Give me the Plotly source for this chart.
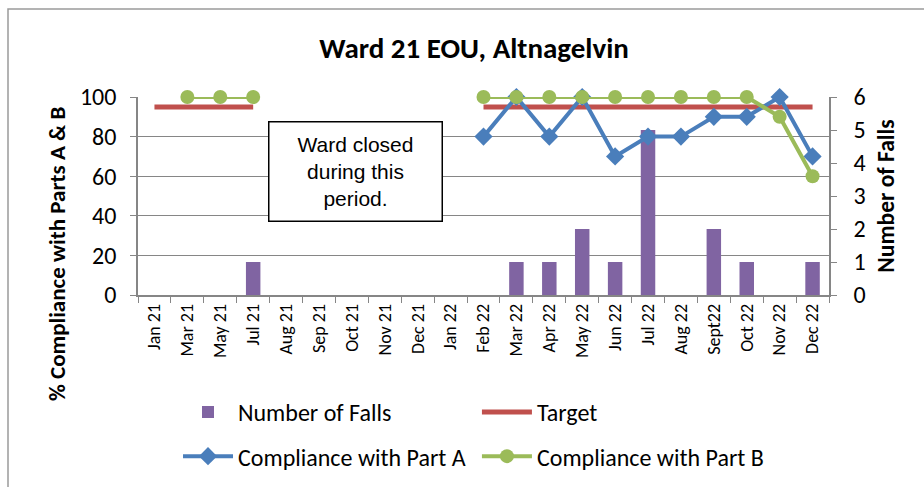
import plotly.graph_objects as go

months = ["Jan 21", "Mar 21", "May 21", "Jul 21", "Aug 21", "Sep 21", "Oct 21",
          "Nov 21", "Dec 21", "Jan 22", "Feb 22", "Mar 22", "Apr 22", "May 22",
          "Jun 22", "Jul 22", "Aug 22", "Sept22", "Oct 22", "Nov 22", "Dec 22"]
falls = [None, None, None, 1, None, None, None, None, None, None, None,
         1, 1, 2, 1, 5, None, 2, 1, None, 1]
target = [95, 95, 95, 95, None, None, None, None, None, None,
          95, 95, 95, 95, 95, 95, 95, 95, 95, 95, 95]
part_a = [None, None, None, None, None, None, None, None, None, None,
          80, 100, 80, 100, 70, 80, 80, 90, 90, 100, 70]
part_b = [None, 100, 100, 100, None, None, None, None, None, None,
          100, 100, 100, 100, 100, 100, 100, 100, 100, 90, 60]

FONT = "Carlito, Lato, sans-serif"
GRID = "#868686"

fig = go.Figure()
fig.add_trace(go.Bar(x=months, y=falls, name="Number of Falls",
                     marker=dict(color="#8064A2", line=dict(width=0)),
                     width=0.44, yaxis="y", legend="legend"))
fig.add_trace(go.Scatter(x=months, y=target, name="Target", mode="lines",
                         line=dict(color="#C0504D", width=5),
                         yaxis="y2", legend="legend2", cliponaxis=False))
fig.add_trace(go.Scatter(x=months, y=part_a, name="Compliance with Part A",
                         mode="lines+markers",
                         line=dict(color="#4A7EBB", width=4),
                         marker=dict(symbol="diamond", size=14, color="#4A7EBB"),
                         yaxis="y2", legend="legend3", cliponaxis=False))
fig.add_trace(go.Scatter(x=months, y=part_b, name="Compliance with Part B",
                         mode="lines+markers",
                         line=dict(color="#9BBB59", width=4),
                         marker=dict(symbol="circle", size=14, color="#9BBB59"),
                         yaxis="y2", legend="legend4", cliponaxis=False))

leg_common = dict(bgcolor="rgba(0,0,0,0)", font=dict(family=FONT, size=24, color="#000"),
                  xanchor="left", yanchor="middle", orientation="h", itemwidth=50)

fig.update_layout(
    width=924, height=487, autosize=False,
    margin=dict(l=138, r=95, t=97, b=192, autoexpand=False),
    paper_bgcolor="white", plot_bgcolor="white",
    title=dict(text="<b>Ward 21 EOU, Altnagelvin</b>", x=0.513, xanchor="center",
               y=1 - 48 / 487, yanchor="middle",
               font=dict(family=FONT, size=29, color="#000")),
    xaxis=dict(type="category", categoryorder="array", categoryarray=months,
               range=[-0.5, len(months) - 0.5], autorange=False,
               tickangle=-90, tickson="boundaries", ticks="outside", ticklen=6,
               tickcolor=GRID, showline=True, linecolor=GRID, linewidth=1.5,
               showgrid=False, automargin=False,
               tickfont=dict(family=FONT, size=18, color="#000")),
    yaxis=dict(side="right", range=[0, 6], dtick=1, showgrid=False, zeroline=False,
               showline=True, linecolor=GRID, linewidth=1.5, ticks="outside",
               ticklen=6, tickcolor=GRID, automargin=False, ticklabelstandoff=12,
               tickfont=dict(family=FONT, size=24, color="#000"),
               title=dict(text="<b>Number of Falls</b>", standoff=13,
                          font=dict(family=FONT, size=23.5, color="#000"))),
    yaxis2=dict(side="left", overlaying="y", range=[0, 100], dtick=20,
                showgrid=True, gridcolor=GRID, gridwidth=1.3, zeroline=False,
                showline=True, linecolor=GRID, linewidth=1.5, ticks="outside",
                ticklen=6, tickcolor=GRID, automargin=False, ticklabelstandoff=9,
                tickfont=dict(family=FONT, size=24, color="#000")),
    bargap=0.56,
    legend=dict(x=0.0579, y=-0.593, **leg_common),
    legend2=dict(x=0.4905, y=-0.593, **leg_common),
    legend3=dict(x=0.0579, y=-0.816, **leg_common),
    legend4=dict(x=0.4905, y=-0.816, **leg_common),
    annotations=[
        dict(text="Ward closed<br>during this<br>period.", xref="paper", yref="paper",
             x=0.3148, y=0.6237, xanchor="center", yanchor="middle",
             showarrow=False, width=170, height=96, align="center",
             bordercolor="#000", borderwidth=1.5, bgcolor="white",
             font=dict(family="Liberation Sans, Arial, sans-serif", size=21, color="#000")),
        dict(text="<b>% Compliance with Parts A & B</b>", xref="paper", yref="paper",
             x=(57 - 138) / 691, y=(295 - 254) / 198, xanchor="center", yanchor="middle",
             textangle=-90, showarrow=False,
             font=dict(family=FONT, size=23, color="#000")),
    ],
    shapes=[dict(type="rect", xref="paper", yref="paper", x0=(8 - 138) / 691, x1=1.3,
                 y0=-1.3, y1=(295 - 9) / 198, line=dict(color="#9a9a9a", width=1.5),
                 fillcolor="rgba(0,0,0,0)", layer="below")],
    showlegend=True,
)

post = ("document.documentElement.style.margin='0';document.body.style.margin='0';"
        "document.body.style.padding='0';document.body.style.overflow='hidden';"
        "var gd=document.getElementById('{plot_id}');"
        "Plotly.relayout(gd,{width:924,height:487});")

fig.write_html("out.html", post_script=post,
               config={"responsive": False, "displayModeBar": False})
